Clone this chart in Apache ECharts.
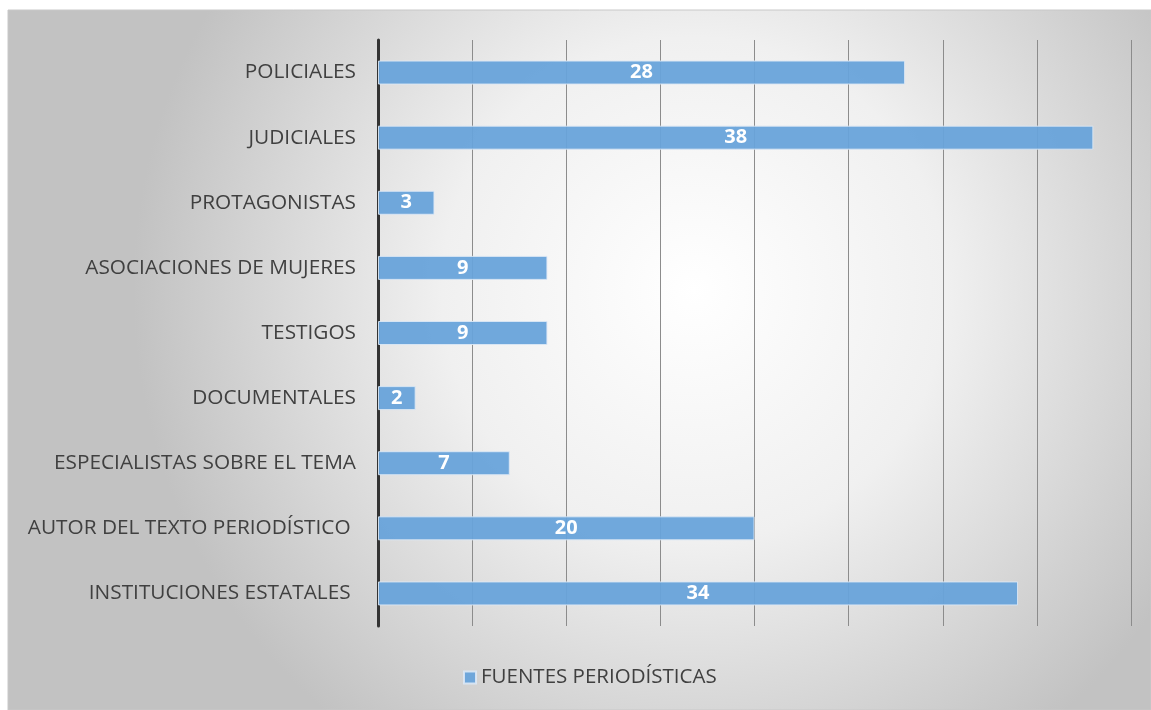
<!DOCTYPE html>
<html>
<head>
<meta charset="utf-8">
<script src="https://cdn.jsdelivr.net/npm/echarts@6/dist/echarts.min.js"></script>
<style>
    html, body { margin: 0; padding: 0; background: #fff; }
    #chart { width: 1151px; height: 710px; }
</style>
</head>
<body>
<div id="chart"></div>
<script>
    // datos (de abajo hacia arriba)
    var categorias = ['INSTITUCIONES ESTATALES ', 'AUTOR DEL TEXTO PERIODÍSTICO ', 'ESPECIALISTAS SOBRE EL TEMA', 'DOCUMENTALES', 'TESTIGOS', 'ASOCIACIONES DE MUJERES', 'PROTAGONISTAS', 'JUDICIALES', 'POLICIALES'];
    var valores = [34, 20, 7, 2, 9, 9, 3, 38, 28];
    var serieNombre = 'FUENTES PERIODÍSTICAS';

    var chart = echarts.init(document.getElementById('chart'));
    var fuente = '"Open Sans", "Noto Sans", sans-serif';

    var option = {
        animation: false,
        textStyle: { fontFamily: fuente },
        graphic: [{
            type: 'rect',
            z: -10,
            shape: { x: 8, y: 10, width: 1143, height: 700 },
            style: {
                fill: new echarts.graphic.RadialGradient(0.6, 0.4, 0.8, [
                    { offset: 0, color: '#ffffff' },
                    { offset: 0.45, color: '#f0f0f0' },
                    { offset: 1, color: '#c2c2c2' }
                ]),
                stroke: '#c8c8c8',
                lineWidth: 1
            }
        }],
        grid: {
            left: 378,
            right: 20,
            top: 40,
            bottom: 84
        },
        legend: {
            bottom: 17,
            left: 458,
            icon: 'rect',
            itemWidth: 12,
            itemHeight: 12,
            itemGap: 6,
            textStyle: { color: '#404040', fontSize: 20.5, fontFamily: fuente },
            data: [serieNombre]
        },
        xAxis: {
            type: 'value',
            min: 0,
            max: 40,
            interval: 5,
            axisLabel: { show: false },
            axisTick: { show: false },
            axisLine: { show: false },
            splitLine: { show: true, lineStyle: { color: '#8c8c8c', width: 1 } }
        },
        yAxis: {
            type: 'category',
            data: categorias,
            axisTick: { show: false },
            axisLine: { show: true, lineStyle: { color: '#333', width: 3 } },
            axisLabel: { color: '#404040', fontSize: 20.8, margin: 22, fontFamily: fuente }
        },
        series: [{
            name: serieNombre,
            type: 'bar',
            data: valores,
            barWidth: 24,
            itemStyle: {
                color: 'rgba(104,163,218,0.95)',
                borderColor: 'rgba(220,232,245,0.9)',
                borderWidth: 1
            },
            label: {
                show: true,
                position: 'inside',
                color: '#fff',
                fontWeight: 'bold',
                fontSize: 20,
                fontFamily: fuente
            }
        }]
    };

    chart.setOption(option);
</script>
</body>
</html>
